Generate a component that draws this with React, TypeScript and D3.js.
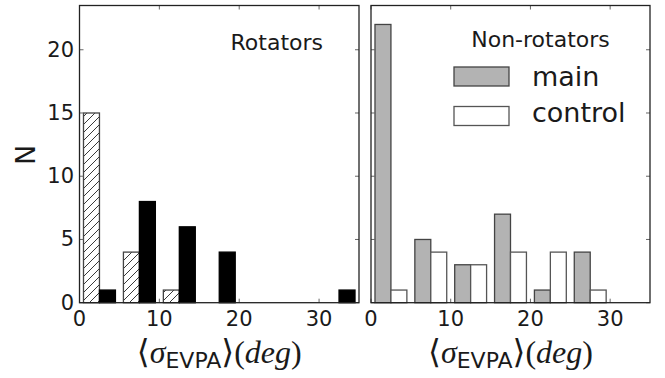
import { scaleLinear } from "d3";

// bin edges (deg) and counts
const binStarts = [0, 5, 10, 15, 20, 25, 30];
const binWidth = 5;
const rotatorsMain = [15, 4, 1, 0, 0, 0, 0];
const rotatorsControl = [1, 8, 6, 4, 0, 0, 1];
const nonRotatorsMain = [22, 5, 3, 7, 1, 4, 0];
const nonRotatorsControl = [1, 4, 3, 4, 4, 1, 0];
const xTicks = [0, 10, 20, 30];
const yTicks = [0, 5, 10, 15, 20];
const legendLabels = ["main", "control"];

const W = 665;
const H = 378;
const top = 5.5;
const bottom = 302.7;
const yScale = scaleLinear().domain([0, 23.5]).range([bottom, top]);

type Style = { fill: string; stroke: string };
const hatchStyle: Style = { fill: "url(#hatch)", stroke: "#444" };
const blackStyle: Style = { fill: "#000", stroke: "#000" };
const grayStyle: Style = { fill: "#b3b3b3", stroke: "#444" };
const whiteStyle: Style = { fill: "#fff", stroke: "#555" };

function Panel({
  x0,
  x1,
  a,
  b,
  sa,
  sb,
  yLabels,
}: {
  x0: number;
  x1: number;
  a: number[];
  b: number[];
  sa: Style;
  sb: Style;
  yLabels: boolean;
}) {
  const xScale = scaleLinear().domain([0, 35]).range([x0, x1]);
  // matplotlib style side-by-side bars: rwidth 0.8 split in two
  const barW = (binWidth * 0.8) / 2;
  const off = binWidth * 0.1;
  const bars = (vals: number[], k: number, s: Style) =>
    vals.map((v, i) =>
      v > 0 ? (
        <rect
          key={k + "-" + i}
          x={xScale(binStarts[i] + off + k * barW)}
          y={yScale(v)}
          width={xScale(barW) - xScale(0)}
          height={yScale(0) - yScale(v)}
          fill={s.fill}
          stroke={s.stroke}
          strokeWidth={1.3}
        />
      ) : null
    );
  return (
    <g>
      {bars(a, 0, sa)}
      {bars(b, 1, sb)}
      {xTicks.map((t) => (
        <g key={"x" + t}>
          <line x1={xScale(t)} x2={xScale(t)} y1={bottom} y2={bottom - 4} stroke="#666" />
          <line x1={xScale(t)} x2={xScale(t)} y1={top} y2={top + 4} stroke="#666" />
          <text
            x={xScale(t)}
            y={326}
            textAnchor="middle"
            fontSize={21}
            fontFamily="DejaVu Sans"
            fill="#1a1a1a"
          >
            {t}
          </text>
        </g>
      ))}
      {yTicks.map((t) => (
        <g key={"y" + t}>
          <line x1={x0} x2={x0 + 4} y1={yScale(t)} y2={yScale(t)} stroke="#666" />
          <line x1={x1} x2={x1 - 4} y1={yScale(t)} y2={yScale(t)} stroke="#666" />
          {yLabels && (
            <text
              x={x0 - 5.5}
              y={yScale(t)}
              textAnchor="end"
              dominantBaseline="central"
              fontSize={21}
              fontFamily="DejaVu Sans"
              fill="#1a1a1a"
            >
              {t}
            </text>
          )}
        </g>
      ))}
      <rect
        x={x0}
        y={top}
        width={x1 - x0}
        height={bottom - top}
        fill="none"
        stroke="#222"
        strokeWidth={1.3}
      />
      <text
        x={(x0 + x1) / 2}
        y={363}
        textAnchor="middle"
        fontSize={32}
        fontFamily="Liberation Serif"
        fill="#1a1a1a"
      >
        <tspan fontFamily="DejaVu Serif" fontSize={33}>⟨</tspan>
        <tspan fontStyle="italic">σ</tspan>
        <tspan fontFamily="DejaVu Sans" fontSize={22} dy={5}>EVPA</tspan>
        <tspan fontFamily="DejaVu Serif" fontSize={33} dy={-5}>⟩</tspan>
        <tspan>(</tspan>
        <tspan fontStyle="italic">deg</tspan>
        <tspan>)</tspan>
      </text>
    </g>
  );
}

export default function App() {
  return (
    <svg
      width={W}
      height={H}
      style={{ position: "absolute", left: 0, top: 0, background: "#fff" }}
    >
      <defs>
        <pattern id="hatch" patternUnits="userSpaceOnUse" width={8} height={8}>
          <rect width={8} height={8} fill="#fff" />
          <path d="M0,8 L8,0 M-1,1 L1,-1 M7,9 L9,7" stroke="#222" strokeWidth={0.9} />
        </pattern>
      </defs>
      <rect width={W} height={H} fill="#fff" />
      <Panel
        x0={79.5}
        x1={359}
        a={rotatorsMain}
        b={rotatorsControl}
        sa={hatchStyle}
        sb={blackStyle}
        yLabels={true}
      />
      <Panel
        x0={371}
        x1={650}
        a={nonRotatorsMain}
        b={nonRotatorsControl}
        sa={grayStyle}
        sb={whiteStyle}
        yLabels={false}
      />
      <text
        transform="translate(25,155) rotate(-90)"
        textAnchor="middle"
        dominantBaseline="central"
        fontSize={27}
        fontFamily="DejaVu Sans"
        fill="#1a1a1a"
      >
        N
      </text>
      <text x={323} y={50} textAnchor="end" fontSize={22} fontFamily="DejaVu Sans" fill="#1a1a1a">
        Rotators
      </text>
      <text x={540.5} y={46.7} textAnchor="middle" fontSize={22} fontFamily="DejaVu Sans" fill="#1a1a1a">
        Non-rotators
      </text>
      {legendLabels.map((l, i) => {
        const s = i === 0 ? grayStyle : whiteStyle;
        return (
          <g key={l}>
            <rect
              x={454}
              y={67 + i * 39.5}
              width={55}
              height={19}
              fill={s.fill}
              stroke={s.stroke}
              strokeWidth={1.3}
            />
            <text
              x={532}
              y={86 + i * 36}
              fontSize={27}
              fontFamily="DejaVu Sans"
              fill="#1a1a1a"
            >
              {l}
            </text>
          </g>
        );
      })}
    </svg>
  );
}
